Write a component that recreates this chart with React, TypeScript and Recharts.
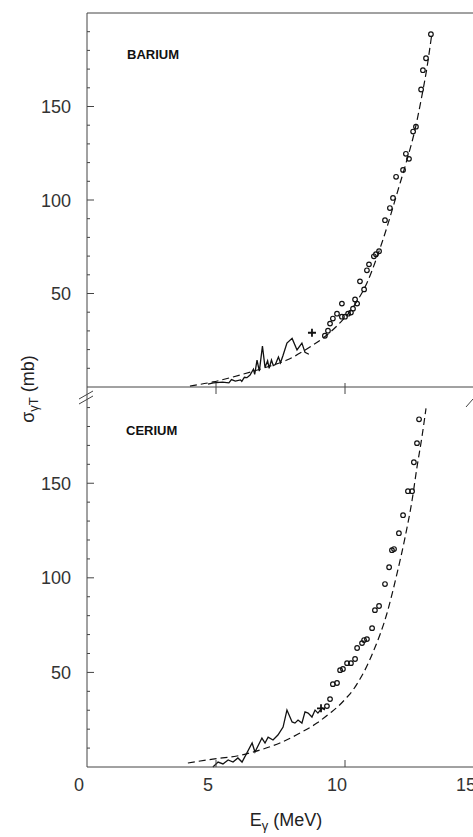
import React from 'react';
import { ComposedChart, Line, Scatter, XAxis, YAxis } from 'recharts';

// [E_gamma (MeV), sigma (mb)]
const bariumCircles = [
  [9.22, 27.4], [9.34, 30.1], [9.42, 33.9], [9.53, 36.6], [9.69, 39.2], [9.88, 37.6],
  [9.88, 44.6], [10.0, 37.6], [10.12, 39.2], [10.23, 39.8], [10.31, 41.9], [10.39, 46.8],
  [10.47, 44.6], [10.58, 56.5], [10.74, 52.2], [10.85, 62.4], [10.93, 65.6], [11.12, 69.9],
  [11.2, 71.0], [11.32, 72.6], [11.55, 89.2], [11.74, 95.7], [11.86, 101.1], [11.98, 112.4],
  [12.25, 116.1], [12.36, 124.7], [12.48, 122.0], [12.64, 136.6], [12.75, 139.2],
  [12.95, 159.1], [13.02, 169.4], [13.14, 175.8], [13.33, 188.7],
];
const bariumDashed = [
  [3.99, 0.5], [4.88, 2.7], [5.93, 6.4], [6.98, 10.7], [7.75, 14.4], [8.64, 21.4],
  [9.3, 27.8], [9.92, 36.0], [10.2, 40.5], [10.47, 46.0], [10.85, 55.6], [11.24, 69.5],
  [11.63, 85.6], [12.02, 103.7], [12.4, 121.4], [12.71, 137.4], [12.95, 153.5],
  [13.18, 171.1], [13.37, 189.3],
];
const bariumSolid = [
  [4.69, 1.5], [4.9, 2.2], [5.25, 2.6], [5.5, 2.2], [5.6, 4.0], [5.75, 3.2], [5.95, 3.8],
  [6.0, 3.0], [6.1, 5.2], [6.2, 5.0], [6.32, 6.4], [6.45, 9.5], [6.5, 6.8], [6.59, 14.4],
  [6.68, 8.5], [6.8, 21.9], [6.9, 10.5], [7.0, 14.0], [7.06, 10.0], [7.15, 14.4], [7.22, 11.5],
  [7.3, 12.0], [7.42, 16.0], [7.5, 13.0], [7.6, 17.0], [7.75, 23.5], [7.95, 26.0],
  [8.14, 19.8], [8.33, 23.5], [8.45, 18.5], [8.6, 17.5],
];
const bariumCross = [[8.72, 29.0]];

const ceriumCircles = [
  [9.3, 32.2], [9.42, 35.9], [9.53, 43.8], [9.69, 44.4], [9.81, 51.2], [9.92, 51.8],
  [10.08, 54.9], [10.23, 54.9], [10.39, 57.1], [10.47, 62.9], [10.66, 65.5], [10.74, 67.1],
  [10.85, 67.6], [11.05, 73.4], [11.16, 82.9], [11.32, 85.1], [11.55, 96.7], [11.71, 105.6],
  [11.82, 114.6], [11.9, 115.2], [12.09, 123.6], [12.25, 133.1], [12.44, 145.8],
  [12.6, 145.8], [12.67, 161.1], [12.79, 171.2], [12.87, 183.8],
];
const ceriumDashed = [
  [3.91, 2.1], [4.88, 4.2], [5.81, 5.8], [6.71, 9.0], [7.48, 12.7], [8.26, 18.0],
  [8.91, 23.2], [9.42, 28.5], [9.73, 32.0], [10.05, 36.5], [10.3, 40.5], [10.58, 46.5],
  [10.8, 52.0], [11.09, 60.8], [11.63, 81.4], [12.02, 102.5], [12.33, 121.5], [12.6, 141.0],
  [12.79, 158.5], [12.98, 174.3], [13.14, 189.6],
];
const ceriumSolid = [
  [4.88, 0], [5.08, 2.6], [5.27, 1.6], [5.47, 3.7], [5.66, 2.6], [5.85, 4.8], [6.01, 2.6],
  [6.4, 12.7], [6.51, 7.9], [6.78, 15.3], [6.9, 12.7], [7.02, 15.8], [7.21, 14.3],
  [7.4, 16.9], [7.6, 21.1], [7.75, 30.1], [7.95, 23.8], [8.06, 23.2], [8.18, 24.8],
  [8.33, 23.2], [8.45, 29.1], [8.57, 28.5], [8.72, 26.4], [8.84, 30.1], [8.95, 28.5],
  [9.11, 31.2], [9.22, 30.1],
];
const ceriumCross = [[9.07, 31.0]];

const yTicks = [10, 20, 30, 40, 50, 60, 70, 80, 90, 100, 110, 120, 130, 140, 150, 160, 170, 180, 190];
const yLabelled = [50, 100, 150];
const xTicks = [0, 5, 10, 15];
const xInnerTicks = [5, 10];

const toPts = (arr: number[][]) => arr.map(([e, s]) => ({ e, s }));

const PLOT_LEFT = 87;
const PLOT_RIGHT = 474;
const INK = '#111';
const AXIS = '#444';
const FONT = '"Liberation Sans", Arial, sans-serif';

const LeftTick = (props: any) => {
  const { y, payload } = props;
  const v = payload.value;
  const major = yLabelled.includes(v);
  return (
    <g>
      <line x1={PLOT_LEFT} x2={PLOT_LEFT + (major ? 7 : 3)} y1={y} y2={y} stroke={AXIS} />
      {major && (
        <text x={71} y={y} dy={6.5} textAnchor="end" fontSize={18} fill="#333" fontFamily={FONT}>
          {v}
        </text>
      )}
    </g>
  );
};

const RightTick = (props: any) => {
  const { y, payload } = props;
  const major = yLabelled.includes(payload.value);
  return <line x1={PLOT_RIGHT} x2={PLOT_RIGHT - (major ? 6 : 2)} y1={y} y2={y} stroke={AXIS} />;
};

const makeXTick = (baseY: number, cross: boolean) => (props: any) => {
  const { x } = props;
  return <line x1={x} x2={x} y1={cross ? baseY - 4 : baseY} y2={baseY + 7} stroke={AXIS} />;
};

const BottomLabelTick = (props: any) => {
  const { x, payload } = props;
  const v = payload.value;
  return (
    <g>
      {(v === 5 || v === 10) && <line x1={x} x2={x} y1={367} y2={360} stroke={AXIS} />}
      <text x={x - 8} y={391} textAnchor="middle" fontSize={18} fill="#333" fontFamily={FONT}>
        {v}
      </text>
    </g>
  );
};

const OpenCircle = (props: any) => (
  <circle cx={props.cx} cy={props.cy} r={2.3} fill="none" stroke={INK} strokeWidth={1.2} />
);

const CrossMark = (props: any) => (
  <path
    d={`M${props.cx - 4},${props.cy}h8M${props.cx},${props.cy - 4}v8`}
    stroke={INK}
    strokeWidth={1.8}
  />
);

const Panel = ({
  height,
  top,
  yMax,
  circles,
  dashed,
  solid,
  cross,
  bottomLabels,
}: {
  height: number;
  top: number;
  yMax: number;
  circles: number[][];
  dashed: number[][];
  solid: number[][];
  cross: number[][];
  bottomLabels: boolean;
}) => (
  <div style={{ position: 'absolute', left: 0, top }}>
    <ComposedChart
      width={490}
      height={height}
      margin={{ top: bottomLabels ? 0 : 12, right: 15, bottom: bottomLabels ? 0 : 12, left: 0 }}
    >
      <XAxis
        xAxisId="b"
        dataKey="e"
        type="number"
        domain={[0, 15]}
        ticks={bottomLabels ? xTicks : xInnerTicks}
        interval={0}
        height={bottomLabels ? 70 : 1}
        stroke={AXIS}
        tickLine={false}
        tick={bottomLabels ? <BottomLabelTick /> : makeXTick(387, true)}
      />
      {!bottomLabels && (
        <XAxis
          xAxisId="t"
          orientation="top"
          type="number"
          domain={[0, 15]}
          ticks={xInnerTicks}
          interval={0}
          height={1}
          stroke={AXIS}
          tickLine={false}
          tick={makeXTick(13, false)}
        />
      )}
      <YAxis
        yAxisId="l"
        type="number"
        domain={[0, yMax]}
        ticks={yTicks}
        interval={0}
        width={87}
        stroke={AXIS}
        tickLine={false}
        tick={<LeftTick />}
      />
      <YAxis
        yAxisId="r"
        orientation="right"
        type="number"
        domain={[0, yMax]}
        ticks={yTicks}
        interval={0}
        width={1}
        stroke={AXIS}
        tickLine={false}
        tick={<RightTick />}
      />
      <Line
        xAxisId="b"
        yAxisId="l"
        data={toPts(dashed)}
        dataKey="s"
        type="monotone"
        stroke={INK}
        strokeWidth={1.2}
        strokeDasharray="7 4"
        dot={false}
        isAnimationActive={false}
      />
      <Line
        xAxisId="b"
        yAxisId="l"
        data={toPts(solid)}
        dataKey="s"
        type="linear"
        stroke={INK}
        strokeWidth={1.3}
        dot={false}
        isAnimationActive={false}
      />
      <Scatter
        xAxisId="b"
        yAxisId="l"
        data={toPts(circles)}
        dataKey="s"
        shape={<OpenCircle />}
        isAnimationActive={false}
      />
      <Scatter
        xAxisId="b"
        yAxisId="l"
        data={toPts(cross)}
        dataKey="s"
        shape={<CrossMark />}
        isAnimationActive={false}
      />
    </ComposedChart>
  </div>
);

const App: React.FC = () => {
  return (
    <div
      style={{
        position: 'absolute',
        left: 0,
        top: 0,
        width: 473,
        height: 837,
        overflow: 'hidden',
        background: '#fff',
      }}
    >
      <Panel
        height={400}
        top={0}
        yMax={200}
        circles={bariumCircles}
        dashed={bariumDashed}
        solid={bariumSolid}
        cross={bariumCross}
        bottomLabels={false}
      />
      <Panel
        height={437}
        top={400}
        yMax={194}
        circles={ceriumCircles}
        dashed={ceriumDashed}
        solid={ceriumSolid}
        cross={ceriumCross}
        bottomLabels={true}
      />
      <svg
        width={473}
        height={837}
        style={{ position: 'absolute', left: 0, top: 0, pointerEvents: 'none' }}
      >
        <line x1={PLOT_LEFT} x2={PLOT_LEFT} y1={387} y2={400} stroke={AXIS} />
        <line x1={79} x2={93} y1={399} y2={391} stroke={AXIS} />
        <line x1={79} x2={93} y1={404} y2={396} stroke={AXIS} />
        <line x1={466} x2={473} y1={407} y2={399} stroke={AXIS} />
        <text x={127} y={59} fontSize={13} fontWeight="bold" fill="#111" fontFamily={FONT}>
          BARIUM
        </text>
        <text x={126} y={435} fontSize={13} fontWeight="bold" fill="#111" fontFamily={FONT}>
          CERIUM
        </text>
        <text
          transform="translate(34,389) rotate(-90)"
          textAnchor="middle"
          fontSize={18}
          fill="#222"
          fontFamily={FONT}
        >
          <tspan>σ</tspan>
          <tspan dy={4} fontSize={13}>γT</tspan>
          <tspan dy={-4}> (mb)</tspan>
        </text>
        <text x={286} y={826} textAnchor="middle" fontSize={18} fill="#222" fontFamily={FONT}>
          <tspan>E</tspan>
          <tspan dy={4} fontSize={13}>γ</tspan>
          <tspan dy={-4}> (MeV)</tspan>
        </text>
      </svg>
    </div>
  );
};

export default App;
